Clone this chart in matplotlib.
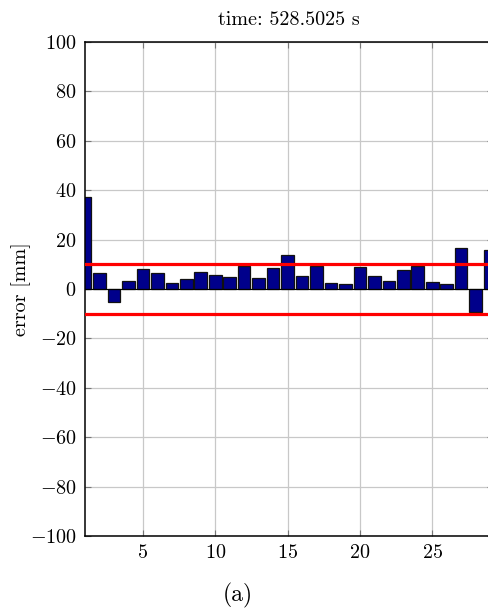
import matplotlib
matplotlib.use("Agg")
import matplotlib.pyplot as plt
from matplotlib.ticker import FuncFormatter, MultipleLocator

plt.rcParams["mathtext.fontset"] = "cm"
plt.rcParams["font.family"] = ["cmr10", "DejaVu Serif"]
plt.rcParams["axes.formatter.use_mathtext"] = True

# per-marker position error at this time step
marker_ids = list(range(1, 30))
errors_mm = [37.2, 6.5, -5.3, 3.1, 8.1, 6.4, 2.3, 4.1, 6.8, 5.8,
             4.8, 9.5, 4.5, 8.5, 13.9, 5.2, 9.2, 2.6, 2.1, 9.1,
             5.2, 3.3, 7.5, 9.5, 2.7, 2.1, 16.7, -9.2, 15.9]
tolerance_mm = 10
title_text = "time: 528.5025 s"
y_label = "error [mm]"
caption = "(a)"

fig = plt.figure(figsize=(4.88, 6.12), dpi=100)
ax = fig.add_axes([85 / 488, 1 - 536 / 612, 408 / 488, (536 - 42) / 612])

ax.grid(True, color="#c8c8c8", linewidth=0.9, zorder=0)
ax.set_axisbelow(True)

ax.bar(marker_ids, errors_mm, width=0.87, color="#00008b",
       edgecolor="#111111", linewidth=0.9, zorder=2)
ax.axhline(0, color="black", linewidth=0.8, zorder=2.5)
ax.axhline(tolerance_mm, color="#ff0000", linewidth=2.3, zorder=3)
ax.axhline(-tolerance_mm, color="#ff0000", linewidth=2.3, zorder=3)

ax.set_xlim(1, 29.2)
ax.set_ylim(-100, 100)
ax.xaxis.set_major_locator(MultipleLocator(5))
ax.yaxis.set_major_locator(MultipleLocator(20))
fmt = FuncFormatter(lambda v, p: r"$%d$" % round(v))
ax.xaxis.set_major_formatter(fmt)
ax.yaxis.set_major_formatter(fmt)
ax.set_xticks([5, 10, 15, 20, 25])

ax.tick_params(axis="both", direction="in", length=4, width=0.8,
               color="#777777", labelsize=14.5, top=True, right=True, pad=6)
for s in ax.spines.values():
    s.set_linewidth(1.1)
    s.set_color("black")

ax.set_title(title_text, fontsize=14.5, pad=12)
ax.set_ylabel(y_label, fontsize=14.5)
ax.yaxis.set_label_coords(-0.133, 0.5)

fig.text(238 / 488, 1 - 595 / 612, caption, ha="center", va="center",
         fontsize=17)

fig.savefig("out.png", dpi=100)
